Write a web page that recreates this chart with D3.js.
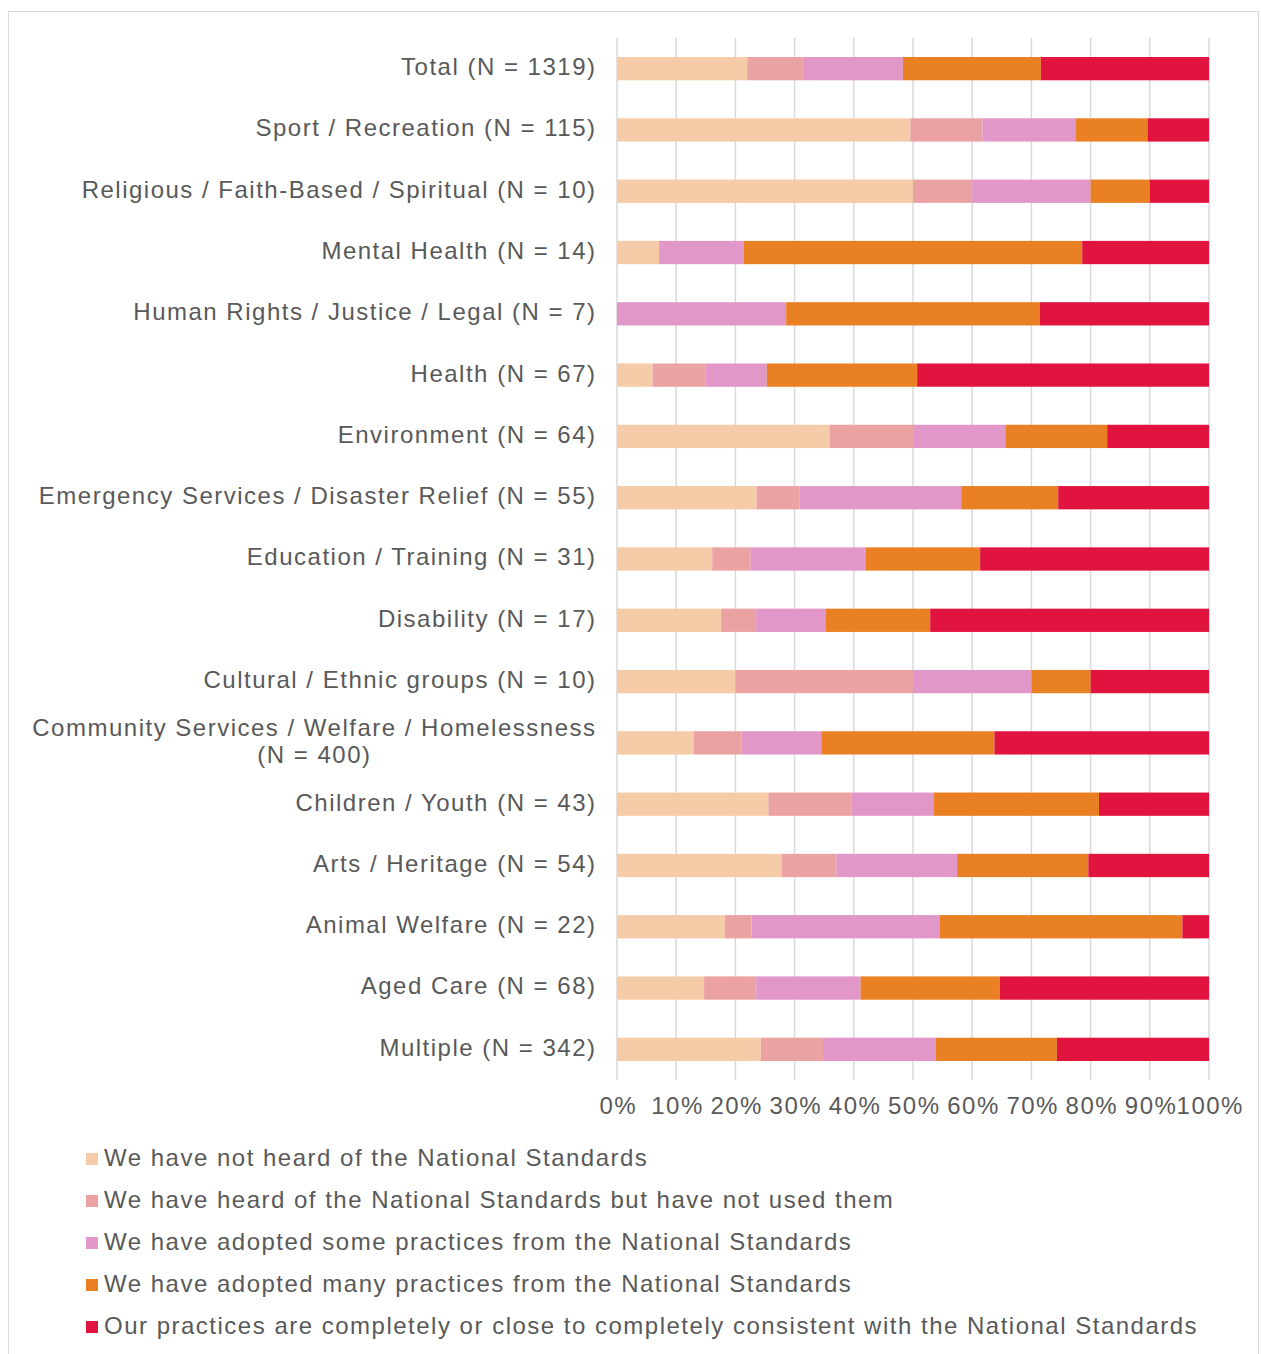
<!DOCTYPE html>
<html><head><meta charset="utf-8">
<script src="https://cdn.jsdelivr.net/npm/d3@7"></script>
<style>
html,body{margin:0;padding:0;background:#fff;}
text{font-family:"Liberation Sans",Arial,sans-serif;fill:#595959;letter-spacing:1.5px;}
</style></head>
<body>
<svg id="chart" width="1261" height="1354"></svg>
<script>
const categories = [
  ["Total (N = 1319)"],
  ["Sport / Recreation (N = 115)"],
  ["Religious / Faith-Based / Spiritual (N = 10)"],
  ["Mental Health (N = 14)"],
  ["Human Rights / Justice / Legal (N = 7)"],
  ["Health (N = 67)"],
  ["Environment (N = 64)"],
  ["Emergency Services / Disaster Relief (N = 55)"],
  ["Education / Training (N = 31)"],
  ["Disability (N = 17)"],
  ["Cultural / Ethnic groups (N = 10)"],
  ["Community Services / Welfare / Homelessness", "(N = 400)"],
  ["Children / Youth (N = 43)"],
  ["Arts / Heritage (N = 54)"],
  ["Animal Welfare (N = 22)"],
  ["Aged Care (N = 68)"],
  ["Multiple (N = 342)"]
];
const seriesNames = [
  "We have not heard of the National Standards",
  "We have heard of the National Standards but have not used them",
  "We have adopted some practices from the National Standards",
  "We have adopted many practices from the National Standards",
  "Our practices are completely or close to completely consistent with the National Standards"
];
const notHeard     = [22.0, 49.6, 50, 7.1, 0, 6.0, 35.9, 23.6, 16.1, 17.6, 20, 13.0, 25.6, 27.8, 18.2, 14.7, 24.3];
const heardNotUsed = [9.4, 12.2, 10, 0, 0, 8.9, 14.1, 7.3, 6.5, 5.9, 30, 8.0, 14.0, 9.3, 4.5, 8.8, 10.5];
const someAdopted  = [16.9, 15.7, 20, 14.3, 28.6, 10.4, 15.6, 27.3, 19.4, 11.8, 20, 13.5, 14.0, 20.4, 31.8, 17.6, 19.0];
const manyAdopted  = [23.3, 12.2, 10, 57.1, 42.9, 25.4, 17.2, 16.4, 19.4, 17.6, 10, 29.25, 27.9, 22.2, 40.9, 23.5, 20.5];
const consistent   = [28.4, 10.4, 10, 21.4, 28.6, 49.3, 17.2, 25.5, 38.7, 47.1, 20, 36.25, 18.6, 20.4, 4.5, 35.3, 25.7];
const tickValues = [0, 0.1, 0.2, 0.3, 0.4, 0.5, 0.6, 0.7, 0.8, 0.9, 1.0];
const colors = ["#F5CCA7", "#EBA2A3", "#E197C7", "#E98024", "#E1143F"];

const keys = ["a","b","c","d","e"];
const seriesArrays = [notHeard, heardNotUsed, someAdopted, manyAdopted, consistent];
const rows = categories.map((c, i) => {
  const r = {cat: c.join(" ")};
  keys.forEach((k, j) => r[k] = seriesArrays[j][i]);
  return r;
});

const svg = d3.select("#chart");
svg.append("rect").attr("x", 8.5).attr("y", 11.5).attr("width", 1250).attr("height", 1345)
  .attr("fill", "none").attr("stroke", "#D9D9D9").attr("stroke-width", 1);

const x = d3.scaleLinear().domain([0, 1]).range([617, 1209]);
const y = d3.scaleBand().domain(rows.map(r => r.cat)).range([38, 1080]).paddingInner(0.62).paddingOuter(0.31);

// gridlines
const grid = svg.append("g");
grid.selectAll("line").data(tickValues).join("line")
  .attr("x1", d => x(d)).attr("x2", d => x(d))
  .attr("y1", 38).attr("y2", 1080)
  .attr("stroke", "#D9D9D9").attr("stroke-width", 1.5);

const stack = d3.stack().keys(keys).offset(d3.stackOffsetExpand);
const stacked = stack(rows);

svg.append("g").selectAll("g").data(stacked).join("g")
  .attr("fill", (d, i) => colors[i])
  .selectAll("rect").data(d => d).join("rect")
  .attr("x", d => x(d[0]))
  .attr("width", d => Math.max(0, x(d[1]) - x(d[0])))
  .attr("y", d => y(d.data.cat))
  .attr("height", y.bandwidth());

// x axis labels
const xAxis = d3.axisBottom(x).tickValues(tickValues).tickFormat(d3.format(".0%")).tickSize(0).tickPadding(0);
const gx = svg.append("g").attr("transform", "translate(0,1114)").call(xAxis);
gx.select(".domain").remove();
gx.selectAll("text").attr("font-size", 24).attr("font-family", "Liberation Sans, Arial, sans-serif")
  .attr("fill", "#595959").attr("dy", 0).attr("y", 0).attr("dx", "0.75px");

// y labels
const labelX = 596.5;
const gy = svg.append("g");
categories.forEach((lines, i) => {
  const cy = y(rows[i].cat) + y.bandwidth() / 2 - 2;
  if (lines.length === 1) {
    gy.append("text").attr("x", labelX).attr("y", cy).attr("dy", "0.35em")
      .attr("text-anchor", "end").attr("font-size", 24).text(lines[0]);
  } else {
    const t1 = gy.append("text").attr("x", labelX).attr("y", cy - 13).attr("dy", "0.35em")
      .attr("text-anchor", "end").attr("font-size", 24).text(lines[0]);
    const w = t1.node().getComputedTextLength();
    gy.append("text").attr("x", labelX - w / 2).attr("y", cy + 14).attr("dy", "0.35em")
      .attr("text-anchor", "middle").attr("font-size", 24).text(lines[1]);
  }
});

// legend
const lg = svg.append("g");
seriesNames.forEach((name, i) => {
  const ly = 1158 + i * 42;
  lg.append("rect").attr("x", 86).attr("y", ly - 5).attr("width", 12).attr("height", 12).attr("fill", colors[i]);
  lg.append("text").attr("x", 104).attr("y", ly).attr("dy", "0.35em").attr("font-size", 24).text(name);
});
</script>
</body></html>
